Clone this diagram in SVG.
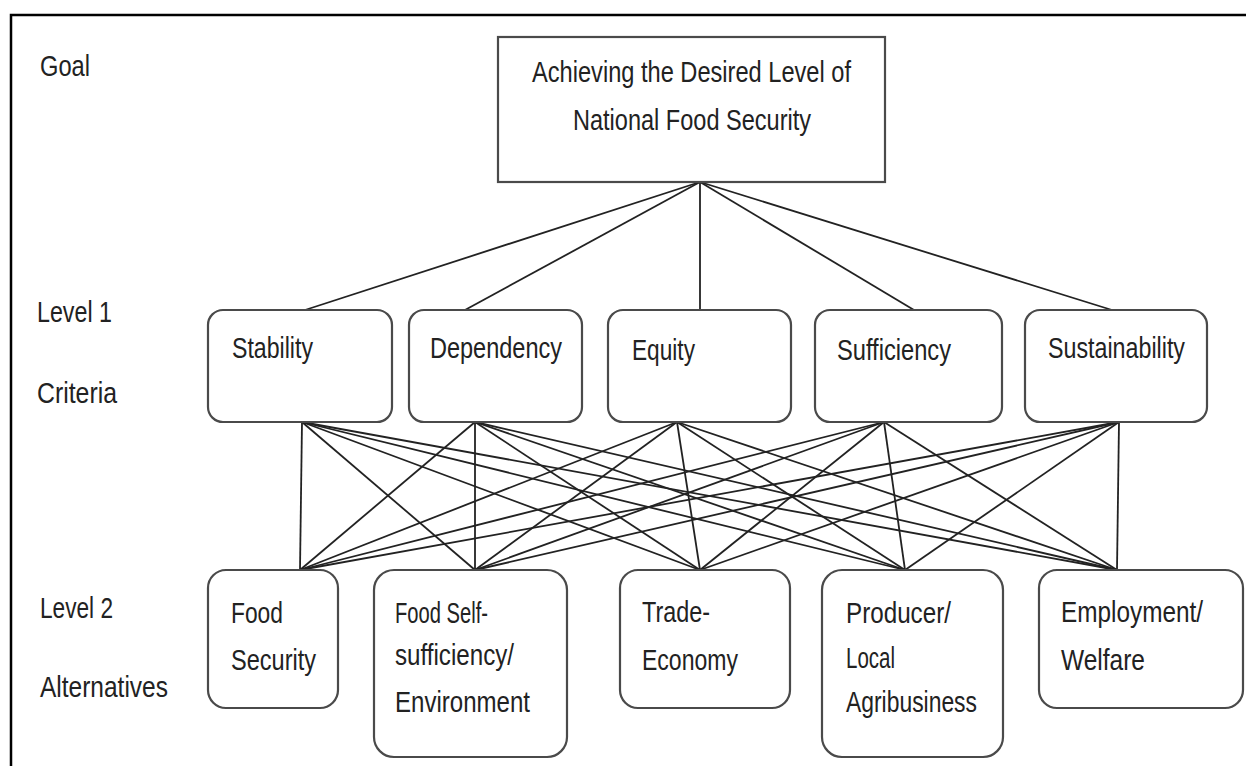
<svg xmlns="http://www.w3.org/2000/svg" width="1246" height="766" viewBox="0 0 1246 766">
<style>
text{font-family:"Liberation Sans",Arial,sans-serif;font-size:29px;fill:#222}
.box{fill:#fff;stroke:#4a4a4a;stroke-width:2.2}
.conn line{stroke:#222;stroke-width:1.8}
.frame{stroke:#000;stroke-width:2.5;fill:none}
</style>
<rect width="1246" height="766" fill="#fff"/>
<path class="frame" d="M11,766 V15 H1246"/>
<g id="labels">
<text x="40" y="76" textLength="50" lengthAdjust="spacingAndGlyphs">Goal</text>
<text x="37" y="322" textLength="75" lengthAdjust="spacingAndGlyphs">Level 1</text>
<text x="37" y="403" textLength="80" lengthAdjust="spacingAndGlyphs">Criteria</text>
<text x="40" y="618" textLength="73" lengthAdjust="spacingAndGlyphs">Level 2</text>
<text x="40" y="697" textLength="128" lengthAdjust="spacingAndGlyphs">Alternatives</text>
</g>
<g class="conn" id="connectors">
<line x1="700" y1="182" x2="305" y2="310"/>
<line x1="700" y1="182" x2="465" y2="310"/>
<line x1="700" y1="182" x2="700" y2="310"/>
<line x1="700" y1="182" x2="914" y2="310"/>
<line x1="700" y1="182" x2="1112" y2="310"/>
<line x1="302" y1="422" x2="300" y2="570"/><line x1="302" y1="422" x2="475" y2="570"/><line x1="302" y1="422" x2="700" y2="570"/><line x1="302" y1="422" x2="905" y2="570"/><line x1="302" y1="422" x2="1117" y2="570"/>
<line x1="475" y1="422" x2="300" y2="570"/><line x1="475" y1="422" x2="475" y2="570"/><line x1="475" y1="422" x2="700" y2="570"/><line x1="475" y1="422" x2="905" y2="570"/><line x1="475" y1="422" x2="1117" y2="570"/>
<line x1="677" y1="422" x2="300" y2="570"/><line x1="677" y1="422" x2="475" y2="570"/><line x1="677" y1="422" x2="700" y2="570"/><line x1="677" y1="422" x2="905" y2="570"/><line x1="677" y1="422" x2="1117" y2="570"/>
<line x1="884" y1="422" x2="300" y2="570"/><line x1="884" y1="422" x2="475" y2="570"/><line x1="884" y1="422" x2="700" y2="570"/><line x1="884" y1="422" x2="905" y2="570"/><line x1="884" y1="422" x2="1117" y2="570"/>
<line x1="1119" y1="422" x2="300" y2="570"/><line x1="1119" y1="422" x2="475" y2="570"/><line x1="1119" y1="422" x2="700" y2="570"/><line x1="1119" y1="422" x2="905" y2="570"/><line x1="1119" y1="422" x2="1117" y2="570"/>
</g>
<g id="goal">
<rect class="box" x="498" y="37" width="387" height="145"/>
<text x="532" y="82" textLength="319" lengthAdjust="spacingAndGlyphs">Achieving the Desired Level of</text>
<text x="573" y="130" textLength="238" lengthAdjust="spacingAndGlyphs">National Food Security</text>
</g>
<g id="stability">
<rect class="box" x="208" y="310" width="184" height="112" rx="15"/>
<text x="232" y="358" textLength="81" lengthAdjust="spacingAndGlyphs">Stability</text>
</g>
<g id="dependency">
<rect class="box" x="409" y="310" width="173" height="112" rx="15"/>
<text x="430" y="358" textLength="132" lengthAdjust="spacingAndGlyphs">Dependency</text>
</g>
<g id="equity">
<rect class="box" x="608" y="310" width="183" height="112" rx="15"/>
<text x="632" y="360" textLength="63" lengthAdjust="spacingAndGlyphs">Equity</text>
</g>
<g id="sufficiency">
<rect class="box" x="815" y="310" width="187" height="112" rx="15"/>
<text x="837" y="360" textLength="114" lengthAdjust="spacingAndGlyphs">Sufficiency</text>
</g>
<g id="sustainability">
<rect class="box" x="1025" y="310" width="182" height="112" rx="15"/>
<text x="1048" y="358" textLength="137" lengthAdjust="spacingAndGlyphs">Sustainability</text>
</g>
<g id="food-security">
<rect class="box" x="208" y="570" width="130" height="138" rx="18"/>
<text x="231" y="623" textLength="52" lengthAdjust="spacingAndGlyphs">Food</text>
<text x="231" y="670" textLength="85" lengthAdjust="spacingAndGlyphs">Security</text>
</g>
<g id="food-self-sufficiency">
<rect class="box" x="374" y="570" width="193" height="187" rx="20"/>
<text x="395" y="623" textLength="93" lengthAdjust="spacingAndGlyphs">Food Self-</text>
<text x="395" y="665" textLength="119" lengthAdjust="spacingAndGlyphs">sufficiency/</text>
<text x="395" y="712" textLength="135" lengthAdjust="spacingAndGlyphs">Environment</text>
</g>
<g id="trade-economy">
<rect class="box" x="620" y="570" width="170" height="138" rx="18"/>
<text x="642" y="622" textLength="68" lengthAdjust="spacingAndGlyphs">Trade-</text>
<text x="642" y="670" textLength="96" lengthAdjust="spacingAndGlyphs">Economy</text>
</g>
<g id="producer">
<rect class="box" x="822" y="570" width="181" height="187" rx="20"/>
<text x="846" y="623" textLength="105" lengthAdjust="spacingAndGlyphs">Producer/</text>
<text x="846" y="668" textLength="49" lengthAdjust="spacingAndGlyphs">Local</text>
<text x="846" y="712" textLength="131" lengthAdjust="spacingAndGlyphs">Agribusiness</text>
</g>
<g id="employment">
<rect class="box" x="1039" y="570" width="204" height="138" rx="18"/>
<text x="1061" y="622" textLength="142" lengthAdjust="spacingAndGlyphs">Employment/</text>
<text x="1061" y="670" textLength="84" lengthAdjust="spacingAndGlyphs">Welfare</text>
</g>
</svg>
